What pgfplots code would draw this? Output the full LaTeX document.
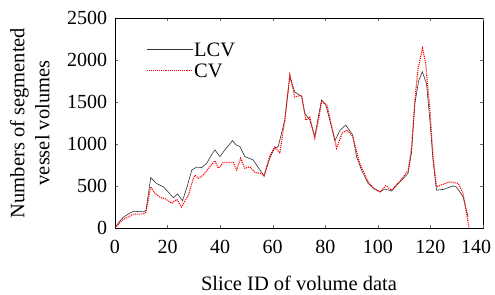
\documentclass[border=0pt]{standalone}
\usepackage{pgfplots}
\pgfplotsset{compat=1.18}
\usepackage{fontspec}
\setmainfont{Liberation Serif}
\begin{document}
\begin{tikzpicture}
\fontsize{20bp}{24bp}\selectfont
\begin{axis}[
  scale only axis,
  width=368bp, height=210bp,
  xmin=0, xmax=140, ymin=0, ymax=2500,
  xtick={0,20,...,120}, ytick={0,500,...,2500},
  extra x ticks={140},
  extra x tick style={xticklabel style={xshift=-7bp}},
  tick align=inside,
  major tick length=3bp,
  tick style={line width=0.4pt, color=black!60},
  axis line style={line width=0.6pt, black},
  /pgf/number format/assume math mode=true,
  /pgf/number format/1000 sep={},
  ticklabel style={font=\fontsize{20bp}{22bp}\selectfont},
  xticklabel style={yshift=-5bp},
  yticklabel style={xshift=-1bp},
  label style={font=\fontsize{20.5bp}{25bp}\selectfont},
  xlabel={Slice ID of volume data},
  xlabel style={yshift=-9bp},
  ylabel={Numbers of segmented\\vessel volumes},
  ylabel style={align=center, yshift=4bp},
  legend style={draw=none, fill=none, at={(axis description cs:0.084,0.89)}, anchor=north west,
    font=\fontsize{20.5bp}{20bp}\selectfont, row sep=5.5bp, inner sep=0pt,
    nodes={inner sep=1bp, text height=14bp, text depth=0bp}},
  legend cell align=left,
  legend image code/.code={\draw[#1] (0cm,0cm) -- (1.62cm,0cm);},
]
\addplot[black!80, line width=0.6pt] coordinates {
(0,0)(1.5,70)(3.2,130)(5,165)(7,200)(9,195)(10.8,192)(11.8,210)(13.6,600)(15.8,530)(18.4,490)(20.5,420)(22.2,360)(23.8,405)(25.7,325)(27.5,500)(29.2,690)(31,725)(33,720)(34.9,770)(36.5,860)(38,930)(39.9,850)(41.8,930)(44.7,1040)(46,990)(47.5,970)(49.4,850)(52.6,810)(54.5,720)(56.7,620)(58.9,830)(60.5,940)(62.1,970)(64.6,1285)(66.5,1800)(68.4,1620)(71,1565)(72.2,1365)(74.1,1285)(76,1090)(77.5,1350)(78.6,1525)(80.2,1465)(82,1250)(83.7,1040)(85.6,1165)(87.8,1225)(90.4,1110)(91.9,850)(93.8,690)(96.3,530)(98.5,470)(100.8,430)(102.7,465)(105.2,440)(108.4,550)(111.5,650)(112.8,900)(114.1,1485)(115.5,1750)(116.9,1860)(118.5,1720)(119.8,1285)(121,800)(122.3,450)(125,460)(128.6,500)(129.8,490)(132.4,375)(134.3,135)
};
\addlegendentry{LCV}
\addplot[red, line width=1.1pt, densely dotted] coordinates {
(0,0)(1.5,50)(3.2,105)(5,130)(7,165)(9,165)(10.8,165)(11.8,190)(13.6,490)(15,420)(17.1,365)(19,350)(21.6,295)(23.5,340)(25.3,250)(27.9,390)(29.7,580)(30.4,630)(31.7,590)(33.6,630)(36.1,730)(38,800)(39.3,710)(41.2,780)(43,780)(45,780)(46.3,690)(47.8,830)(49.4,710)(51.3,730)(53.2,660)(55.7,650)(56.7,620)(58.9,860)(60.8,970)(62.7,890)(64.6,1285)(66.5,1825)(68.4,1560)(71,1580)(72.6,1285)(74.1,1320)(76,1070)(77.5,1300)(78.6,1505)(80.6,1465)(82.5,1200)(84.3,950)(86.4,1130)(88.3,1165)(90.4,1090)(93.1,770)(96.3,550)(98.5,470)(100.8,430)(103,505)(105.2,450)(108.4,560)(111.5,680)(112.8,950)(114.1,1525)(115.3,1900)(117,2140)(118.2,1960)(119.8,1400)(121,850)(122.3,490)(124.3,515)(127.4,550)(130.6,530)(132.4,410)(134.7,0)
};
\addlegendentry{CV}
\end{axis}
\pgfresetboundingbox
\path (current axis.south west) ++(-115bp,-67bp) rectangle ++(495bp,295bp);
\end{tikzpicture}
\end{document}
